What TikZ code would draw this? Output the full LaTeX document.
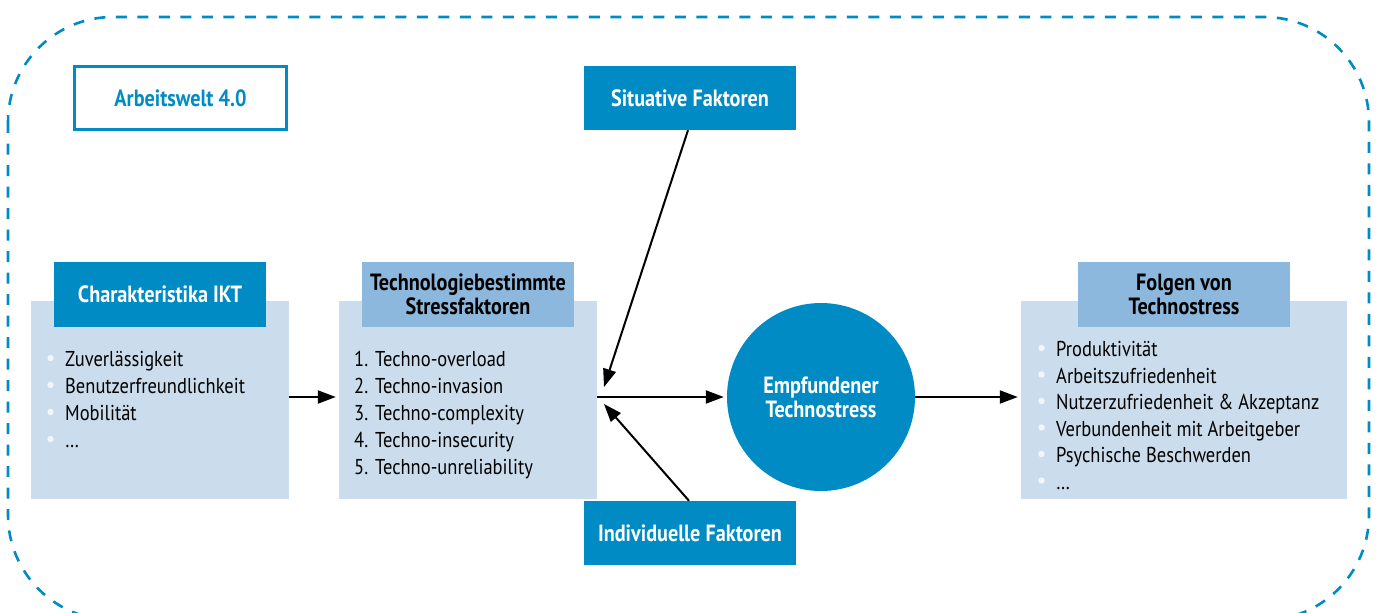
\documentclass[tikz,border=0pt]{standalone}
\usepackage{fontspec}
\setmainfont{PT Sans}[FakeStretch=0.86]
\usetikzlibrary{arrows.meta}
\definecolor{ikblue}{RGB}{0,139,196}
\definecolor{ikpale}{RGB}{203,221,236}
\definecolor{ikmid}{RGB}{141,184,221}
\definecolor{ikdot}{RGB}{242,246,250}
\newcommand\ikhead{\bfseries\fontsize{23.5}{24}\selectfont}
\newcommand\ikitem{\fontsize{21.5}{27}\selectfont}

\begin{document}
\begin{tikzpicture}[x=1pt,y=-1pt,
    pale/.style={fill=ikpale,minimum height=198pt,inner sep=0pt},
    head/.style={fill=ikblue,text=white,font=\ikhead,minimum width=212pt,minimum height=65pt,align=center,inner sep=0pt},
    midhead/.style={head,fill=ikmid,text=black},
    item/.style={anchor=base west,inner sep=0pt,font=\ikitem},
    arr/.style={-{Triangle[length=18pt,width=13pt]},line width=2pt}]
        \useasboundingbox(0,0)rectangle(1377,613);
        \clip(0,0)rectangle(1377,613);
        % frame
        \draw[ikblue,line width=2.6pt,dash pattern=on 11pt off 10.5pt,rounded corners=105pt](8,17)rectangle(1369,620);
        \node[draw=ikblue,line width=2.3pt,text=ikblue,font=\ikhead,minimum width=212pt,minimum height=63pt](welt)at(180.5,98){Arbeitswelt 4.0};
        % boxes
        \node[pale,minimum width=258pt](ikt)at(160,400){};
        \node[head](iktkopf)at(160,294.5){Charakteristika IKT};
        \node[pale,minimum width=258pt](tsf)at(468,400){};
        \node[midhead](tsfkopf)at(468,294.5){Technologiebestimmte\\Stressfaktoren};
        \node[pale,minimum width=326pt](folgen)at(1184,400){};
        \node[midhead](folgenkopf)at(1184,294.5){Folgen von\\Technostress};
        \node[head,minimum height=64pt](sit)at(690,98){Situative Faktoren};
        \node[head,minimum height=64pt](ind)at(690,533){Individuelle Faktoren};
        \node[circle,fill=ikblue,text=white,font=\ikhead,minimum size=188pt,align=center,inner sep=0pt](stress)at(821,397){Empfundener\\Technostress};
        % lists
        \foreach \txt [count=\i] in {Zuverlässigkeit,Benutzerfreundlichkeit,Mobilität,{\dots}}{
            \fill[ikdot](50.5,358+27*\i-27)circle(3.2);
            \node[item](ikt\i)at(65,366.7+27*\i-27){\txt};
        }
        \foreach \txt [count=\i] in {overload,invasion,complexity,insecurity,unreliability}{
            \node[item](tsf\i)at(354,366.7+27*\i-27){\makebox[21pt][l]{\i.}Techno-\txt};
        }
        \foreach \txt [count=\i] in {Produktivität,Arbeitszufriedenheit,Nutzerzufriedenheit \& Akzeptanz,Verbundenheit mit Arbeitgeber,Psychische Beschwerden,{\dots}}{
            \fill[ikdot](1041.5,348+26.5*\i-26.5)circle(3.2);
            \node[item](folgen\i)at(1056,356.7+26.5*\i-26.5){\txt};
        }
        % arrows
        \coordinate(sitend)at(604,387);
        \coordinate(indend)at(604,404);
        \draw[arr,shorten >=3pt](ikt.east|-stress.west)--(tsf.west|-stress.west);
        \draw[arr,shorten >=3pt](tsf.east|-stress.west)--(stress.west);
        \draw[arr,shorten >=3pt](stress.east)--(folgen.west|-stress.east);
        \draw[arr]([xshift=-2pt]sit.south)--(sitend);
        \draw[arr]([xshift=-1pt]ind.north)--(indend);
    \end{tikzpicture}
\end{document}
